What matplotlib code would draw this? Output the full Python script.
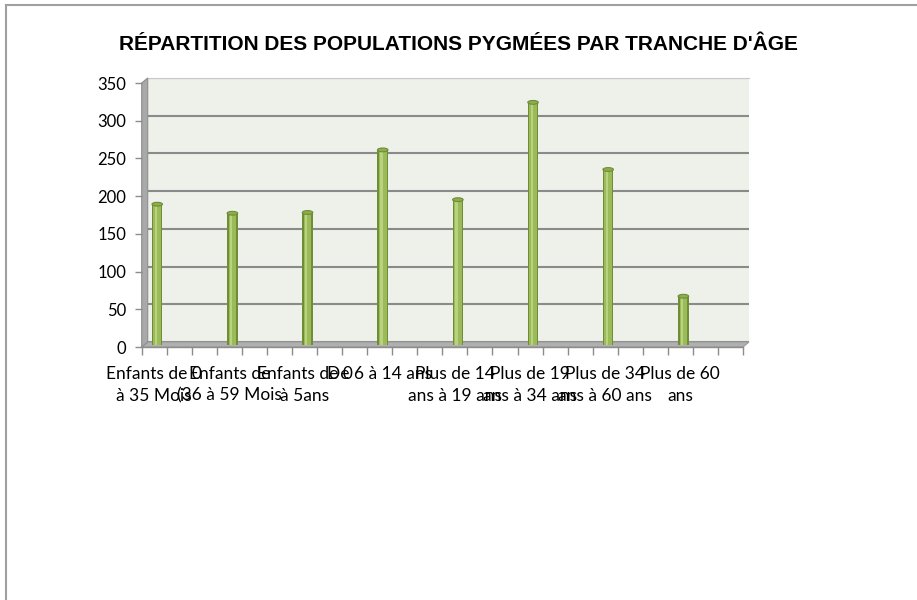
import matplotlib.pyplot as plt
from matplotlib.patches import Polygon, Ellipse
from matplotlib.transforms import offset_copy

# ── data ────────────────────────────────────────────────────────────────
categories = [
    "Enfants de 0\nà 35 Mois",
    "Enfants de\n(36 à 59 Mois",
    "Enfants de 0\nà 5ans",
    "De 6 à 14 ans",
    "Plus de 14\nans à 19 ans",
    "Plus de 19\nans à 34 ans",
    "Plus de 34\nans à 60 ans",
    "Plus de 60\nans",
]
values = [186, 174, 175, 258, 192, 321, 232, 64]
y_ticks = [0, 50, 100, 150, 200, 250, 300, 350]
title = "RÉPARTITION DES POPULATIONS PYGMÉES PAR TRANCHE D'ÂGE"

# ── style ───────────────────────────────────────────────────────────────
W, H = 917, 600
WALL = "#EEF0EA"
GRID = "#8A8A8A"
FLOOR = "#B0B0B0"
SIDE = "#A9A9A9"
GREEN = "#9BBB59"
GREEN_DARK = "#6F8C36"
GREEN_LIGHT = "#B9D27F"
DX, DY = 6, 5          # depth of the 3D box, in pixels
XMIN, XMAX = -1 / 6, 8 - 1 / 6

fig = plt.figure(figsize=(W / 100, H / 100), dpi=100)

# front frame (where the labels sit)
fl, fb, fw, fh = 141.7, 253, 601.3, 264
front_pos = [fl / W, fb / H, fw / W, fh / H]
back_pos = [(fl + DX) / W, (fb + DY) / H, fw / W, fh / H]

# ── back wall ───────────────────────────────────────────────────────────
back = fig.add_axes(back_pos, zorder=0)
back.set_facecolor(WALL)
back.set_xlim(XMIN, XMAX)
back.set_ylim(0, 350)
back.set_yticks(y_ticks)
back.yaxis.grid(True, color=GRID, linewidth=1.5)
back.set_axisbelow(True)
back.tick_params(left=False, bottom=False, labelleft=False, labelbottom=False)
for s in back.spines.values():
    s.set_visible(False)
back.spines["top"].set_visible(True)
back.spines["top"].set_color("#C8C8C8")

# ── front axes: floor, side wall, bars, ticks ──────────────────────────
ax = fig.add_axes(front_pos, zorder=1)
ax.patch.set_visible(False)
ax.set_xlim(XMIN, XMAX)
ax.set_ylim(0, 350)
for s in ax.spines.values():
    s.set_visible(False)

ddx, ddy = DX / fw, DY / fh
floor = Polygon([(0, 0), (1, 0), (1 + ddx, ddy), (ddx, ddy)],
                closed=True, transform=ax.transAxes, facecolor=FLOOR,
                edgecolor="#9A9A9A", linewidth=0.8, clip_on=False, zorder=1)
side = Polygon([(0, 0), (ddx, ddy), (ddx, 1 + ddy), (0, 1)],
               closed=True, transform=ax.transAxes, facecolor=SIDE,
               edgecolor="#8E8E8E", linewidth=0.8, clip_on=False, zorder=1)
ax.add_patch(floor)
ax.add_patch(side)
ax.plot([0, 1], [0, 0], transform=ax.transAxes, color="#8C8C8C",
        linewidth=1, clip_on=False, zorder=2)

# bars sit at mid depth
mid = offset_copy(ax.transData, fig=fig, x=DX / 2, y=DY / 2, units="dots")
x = list(range(len(values)))
bw = 0.14
ax.bar(x, values, width=bw, color=GREEN_DARK, transform=mid, zorder=3,
       clip_on=False)
ax.bar(x, values, width=bw * 0.72, color=GREEN, transform=mid, zorder=4,
       clip_on=False)
ax.bar([i - bw * 0.12 for i in x], values, width=bw * 0.22, color=GREEN_LIGHT,
       transform=mid, zorder=5, clip_on=False)
for xi, v in zip(x, values):
    ax.add_patch(Ellipse((xi, v), bw, 5, facecolor="#8DAE4C",
                         edgecolor=GREEN_DARK, linewidth=0.8, transform=mid,
                         zorder=6, clip_on=False))

# y axis (front)
ax.set_yticks(y_ticks)
ax.set_yticklabels([str(t) for t in y_ticks])
ax.tick_params(axis="y", length=5, width=1, color="#8C8C8C", pad=6,
               labelsize=12)

# x axis: tick marks between sub-slots, labels at category centres
ax.set_xticks([XMIN + k / 3 for k in range(25)], minor=True)
ax.set_xticks(x)
ax.set_xticklabels(categories, linespacing=1.4)
ax.tick_params(axis="x", which="minor", length=6, width=1, color="#8C8C8C")
ax.tick_params(axis="x", which="major", length=0, pad=14, labelsize=12.5)

for lab in ax.get_xticklabels() + ax.get_yticklabels():
    lab.set_fontfamily(["Lato", "DejaVu Sans"])

fig.text(0.5, 1 - 45 / H, title, ha="center", va="center",
         fontsize=15, fontweight="bold", family=["Liberation Sans", "DejaVu Sans"])

# outer frame (left + top only, as in the source)
fig.add_artist(plt.Line2D([6 / W, 6 / W], [0, 1 - 5 / H], color="#A0A0A0",
                          linewidth=1.5, transform=fig.transFigure))
fig.add_artist(plt.Line2D([6 / W, 1], [1 - 5 / H, 1 - 5 / H], color="#A0A0A0",
                          linewidth=1.5, transform=fig.transFigure))

fig.savefig("out.png", dpi=100)
